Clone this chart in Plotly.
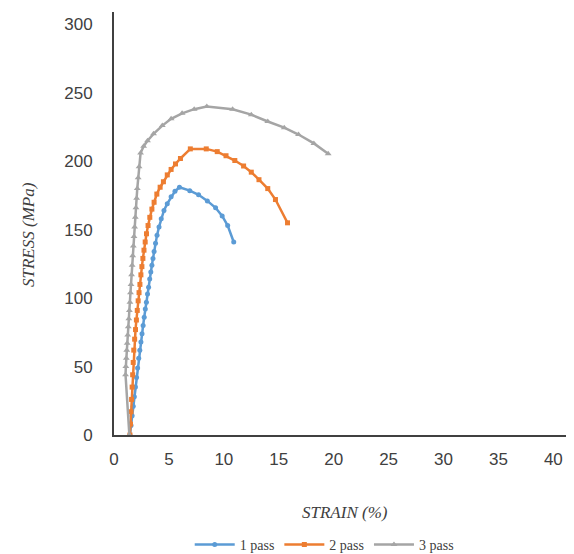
import plotly.graph_objects as go

# 1 pass
strain_1 = [1.45, 1.55, 1.65, 1.75, 1.85, 1.95, 2.05, 2.15, 2.25, 2.35, 2.45, 2.55, 2.65, 2.75,
            2.85, 2.95, 3.05, 3.15, 3.25, 3.35, 3.45, 3.55, 3.65, 3.78, 3.92, 4.1, 4.3, 4.55,
            4.85, 5.2, 5.55, 5.96, 6.9, 7.7, 8.5, 9.25, 9.85, 10.35, 10.9]
stress_1 = [0, 7, 14, 21, 28, 35, 42, 49, 56, 62, 68, 74, 80, 86,
            92, 97, 103, 108, 114, 119, 124, 129, 134, 140, 146, 152, 158, 164,
            169, 174, 178, 181, 178.5, 175.5, 171, 166, 160, 153, 141]

# 2 pass
strain_2 = [1.45, 1.5, 1.55, 1.6, 1.65, 1.7, 1.75, 1.8, 1.88, 1.96, 2.04, 2.12, 2.2, 2.28,
            2.36, 2.45, 2.54, 2.63, 2.73, 2.84, 2.96, 3.1, 3.26, 3.45, 3.65, 3.9, 4.2, 4.5,
            4.85, 5.2, 5.6, 6.05, 6.95, 8.4, 9.4, 10.2, 11.0, 11.8, 12.5, 13.2, 14.0, 14.7, 15.8]
stress_2 = [0, 8, 17, 26, 35, 44, 53, 62, 70, 77, 84, 91, 98, 104,
            110, 117, 123, 129, 135, 141, 147, 153, 159, 165, 170, 176, 181, 185,
            190, 194, 198, 202, 209, 209, 207, 204, 200.5, 196.5, 192, 186.5, 180, 172, 155]

# 3 pass
strain_3 = [1.4, 1.05, 1.08, 1.12, 1.16, 1.2, 1.25, 1.3, 1.35, 1.4, 1.45, 1.5, 1.55, 1.6,
            1.65, 1.7, 1.76, 1.82, 1.88, 1.94, 2.0, 2.06, 2.12, 2.2, 2.28, 2.42, 2.7, 3.05,
            3.6, 4.4, 5.2, 6.2, 7.3, 8.45, 10.8, 12.5, 14.0, 15.5, 16.8, 18.2, 19.5]
stress_3 = [0, 44, 50, 56, 62, 67, 73, 79, 85, 91, 97, 104, 110, 117,
            124, 131, 138, 145, 152, 159, 166, 173, 180, 188, 196, 206, 211, 215,
            220, 226, 231, 235, 238, 240, 238, 234, 229, 224.5, 219.5, 213, 205.5]

x_ticks = [0, 5, 10, 15, 20, 25, 30, 35, 40]
y_ticks = [0, 50, 100, 150, 200, 250, 300]

series = [
    ("1 pass", strain_1, stress_1, "#5B9BD5", "circle", 5),
    ("2 pass", strain_2, stress_2, "#ED7D31", "square", 5),
    ("3 pass", strain_3, stress_3, "#A5A5A5", "triangle-up", 6),
]

fig = go.Figure()
for name, xs, ys, col, sym, sz in series:
    fig.add_trace(go.Scatter(
        x=xs, y=ys, name=name, mode="lines+markers",
        line=dict(color=col, width=2.5),
        marker=dict(symbol=sym, size=sz, color=col),
    ))

fig.update_layout(
    width=582, height=562,
    margin=dict(l=106, r=18, t=4, b=135),
    plot_bgcolor="white", paper_bgcolor="white",
    showlegend=True,
    legend=dict(orientation="h", x=0.459, y=-0.26, xanchor="center", yanchor="middle",
                font=dict(family="Liberation Serif", size=14, color="#404040"),
                itemwidth=40, tracegroupgap=0),
    xaxis=dict(range=[0, 41.7], tickvals=x_ticks, showgrid=False, zeroline=False,
               showline=True, linecolor="#404040", linewidth=2, automargin=False,
               ticks="", ticklabelstandoff=8,
               tickfont=dict(family="Liberation Sans", size=17, color="#404040")),
    yaxis=dict(range=[0, 309], tickvals=y_ticks, showgrid=False, zeroline=False,
               showline=True, linecolor="#404040", linewidth=2, automargin=False,
               ticks="", ticklabelstandoff=16,
               tickfont=dict(family="Liberation Sans", size=17, color="#404040")),
    annotations=[
        dict(text="STRESS (MPa)", xref="paper", yref="paper", x=-0.188, y=0.475,
             textangle=-90, showarrow=False, xanchor="center", yanchor="middle",
             font=dict(family="Liberation Serif", size=17, color="#404040", style="italic")),
        dict(text="STRAIN (%)", xref="paper", yref="paper", x=0.504, y=-0.183,
             showarrow=False, xanchor="center", yanchor="middle",
             font=dict(family="Liberation Serif", size=17, color="#404040", style="italic")),
    ],
)

fig.write_html("out.html")
